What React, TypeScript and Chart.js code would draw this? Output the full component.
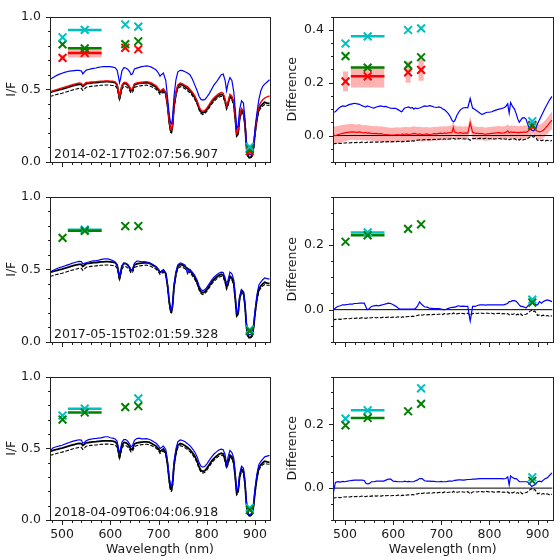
import { useEffect, useRef } from 'react';
import { Chart, registerables } from 'chart.js';

Chart.register(...registerables);

const FONT = "'DejaVu Sans', 'Liberation Sans', sans-serif";
const INK = '#1a1a1a';
Chart.defaults.font.family = FONT;

// ---------------------------------------------------------------------------
// Spectra (I/F) on a common wavelength grid, nm
// ---------------------------------------------------------------------------
const wl = [
  475, 480, 485, 490, 495, 500, 505, 510, 515, 520,
  525, 530, 535, 540, 543, 546, 550, 555, 560, 565,
  570, 575, 580, 585, 590, 595, 600, 605, 610, 614,
  617, 619, 621, 624, 628, 632, 636, 640, 643, 646,
  650, 655, 660, 665, 670, 675, 680, 685, 690, 695,
  700, 703, 706, 710, 715, 719, 722, 725, 727, 729,
  732, 736, 740, 745, 750, 755, 760, 765, 770, 775,
  780, 784, 788, 792, 796, 800, 805, 810, 815, 820,
  825, 830, 834, 838, 841, 844, 848, 852, 856, 859,
  862, 865, 868, 872, 876, 879, 882, 885, 888, 891,
  894, 897, 900, 904, 908, 912, 916, 920, 925, 930,
];

// observed spectrum (solid black)
const obsIF = [
  0.478, 0.483, 0.488, 0.493, 0.497, 0.501, 0.506, 0.511, 0.516, 0.521,
  0.526, 0.530, 0.534, 0.533, 0.519, 0.527, 0.538, 0.540, 0.543, 0.545,
  0.546, 0.548, 0.550, 0.551, 0.552, 0.552, 0.551, 0.549, 0.545, 0.530,
  0.480, 0.442, 0.470, 0.520, 0.540, 0.539, 0.530, 0.510, 0.490, 0.495,
  0.530, 0.537, 0.540, 0.542, 0.544, 0.545, 0.542, 0.535, 0.525, 0.515,
  0.495, 0.478, 0.485, 0.495, 0.470, 0.380, 0.280, 0.215, 0.212, 0.250,
  0.380, 0.470, 0.520, 0.533, 0.528, 0.518, 0.505, 0.490, 0.470, 0.445,
  0.410, 0.370, 0.345, 0.338, 0.345, 0.360, 0.385, 0.410, 0.430, 0.445,
  0.458, 0.465, 0.460, 0.420, 0.375, 0.400, 0.452, 0.440, 0.400, 0.300,
  0.185, 0.200, 0.300, 0.355, 0.340, 0.260, 0.120, 0.045, 0.030, 0.032,
  0.045, 0.100, 0.200, 0.300, 0.365, 0.385, 0.400, 0.410, 0.405, 0.402,
];

// reference spectrum (dashed black)
const refIF = [
  0.450, 0.455, 0.460, 0.465, 0.469, 0.473, 0.478, 0.483, 0.488, 0.493,
  0.498, 0.502, 0.506, 0.506, 0.492, 0.500, 0.514, 0.517, 0.520, 0.522,
  0.523, 0.525, 0.527, 0.528, 0.529, 0.529, 0.528, 0.526, 0.523, 0.508,
  0.460, 0.423, 0.450, 0.500, 0.520, 0.519, 0.510, 0.492, 0.473, 0.478,
  0.512, 0.519, 0.522, 0.525, 0.527, 0.528, 0.525, 0.519, 0.510, 0.500,
  0.481, 0.464, 0.471, 0.481, 0.456, 0.367, 0.268, 0.203, 0.200, 0.238,
  0.366, 0.455, 0.505, 0.518, 0.513, 0.503, 0.490, 0.476, 0.456, 0.431,
  0.397, 0.358, 0.333, 0.326, 0.333, 0.348, 0.372, 0.397, 0.417, 0.432,
  0.445, 0.452, 0.447, 0.407, 0.362, 0.387, 0.439, 0.427, 0.388, 0.289,
  0.175, 0.189, 0.288, 0.342, 0.328, 0.250, 0.113, 0.040, 0.028, 0.030,
  0.040, 0.092, 0.188, 0.287, 0.351, 0.370, 0.385, 0.395, 0.390, 0.388,
];

// 2014 epoch: blue and red spectra
const blueIF1 = [
  0.568, 0.578, 0.588, 0.597, 0.604, 0.610, 0.616, 0.620, 0.624, 0.626,
  0.628, 0.630, 0.630, 0.626, 0.606, 0.618, 0.632, 0.636, 0.640, 0.643,
  0.646, 0.650, 0.653, 0.655, 0.656, 0.656, 0.655, 0.652, 0.648, 0.632,
  0.585, 0.545, 0.570, 0.625, 0.648, 0.646, 0.638, 0.622, 0.600, 0.606,
  0.640, 0.645, 0.650, 0.655, 0.658, 0.660, 0.658, 0.652, 0.642, 0.632,
  0.610, 0.590, 0.600, 0.612, 0.560, 0.430, 0.330, 0.268, 0.262, 0.300,
  0.450, 0.565, 0.620, 0.630, 0.628, 0.620, 0.612, 0.600, 0.570, 0.530,
  0.490, 0.450, 0.430, 0.425, 0.430, 0.445, 0.470, 0.500, 0.530, 0.550,
  0.575, 0.600, 0.605, 0.560, 0.490, 0.540, 0.580, 0.560, 0.480, 0.360,
  0.230, 0.250, 0.360, 0.420, 0.405, 0.300, 0.140, 0.070, 0.050, 0.050,
  0.055, 0.100, 0.230, 0.340, 0.430, 0.490, 0.520, 0.535, 0.550, 0.565,
];

const redIF1 = [
  0.483, 0.488, 0.494, 0.499, 0.504, 0.509, 0.514, 0.520, 0.524, 0.530,
  0.535, 0.539, 0.543, 0.541, 0.526, 0.535, 0.546, 0.547, 0.550, 0.551,
  0.552, 0.554, 0.556, 0.556, 0.557, 0.557, 0.556, 0.555, 0.551, 0.536,
  0.486, 0.449, 0.477, 0.527, 0.547, 0.546, 0.537, 0.517, 0.497, 0.502,
  0.537, 0.543, 0.546, 0.549, 0.551, 0.552, 0.549, 0.543, 0.533, 0.523,
  0.504, 0.487, 0.494, 0.504, 0.479, 0.390, 0.290, 0.224, 0.220, 0.260,
  0.390, 0.480, 0.530, 0.542, 0.537, 0.527, 0.518, 0.500, 0.480, 0.455,
  0.420, 0.380, 0.355, 0.348, 0.355, 0.370, 0.395, 0.421, 0.441, 0.456,
  0.470, 0.477, 0.472, 0.432, 0.387, 0.412, 0.465, 0.453, 0.413, 0.313,
  0.198, 0.213, 0.313, 0.368, 0.354, 0.278, 0.140, 0.065, 0.052, 0.054,
  0.065, 0.118, 0.215, 0.318, 0.385, 0.410, 0.428, 0.440, 0.448, 0.455,
];

// 2017 epoch: blue spectrum
const blueIF2 = [
  0.480, 0.490, 0.498, 0.505, 0.512, 0.516, 0.522, 0.528, 0.533, 0.540,
  0.545, 0.550, 0.554, 0.553, 0.537, 0.540, 0.545, 0.550, 0.555, 0.558,
  0.558, 0.562, 0.566, 0.569, 0.572, 0.571, 0.566, 0.560, 0.550, 0.532,
  0.482, 0.444, 0.472, 0.522, 0.542, 0.541, 0.532, 0.512, 0.492, 0.498,
  0.540, 0.556, 0.555, 0.551, 0.552, 0.550, 0.546, 0.538, 0.528, 0.518,
  0.497, 0.478, 0.485, 0.496, 0.474, 0.386, 0.287, 0.222, 0.220, 0.258,
  0.390, 0.482, 0.530, 0.544, 0.538, 0.528, 0.470, 0.500, 0.480, 0.458,
  0.425, 0.385, 0.360, 0.352, 0.360, 0.375, 0.400, 0.425, 0.445, 0.460,
  0.473, 0.480, 0.477, 0.440, 0.400, 0.425, 0.480, 0.468, 0.425, 0.320,
  0.200, 0.210, 0.310, 0.360, 0.345, 0.270, 0.135, 0.060, 0.050, 0.052,
  0.062, 0.115, 0.215, 0.325, 0.392, 0.412, 0.428, 0.440, 0.436, 0.432,
];

// 2018 epoch: blue spectrum
const blueIF3 = [
  0.470, 0.500, 0.507, 0.512, 0.517, 0.521, 0.528, 0.534, 0.540, 0.546,
  0.551, 0.555, 0.559, 0.557, 0.535, 0.540, 0.552, 0.560, 0.563, 0.567,
  0.568, 0.570, 0.572, 0.576, 0.580, 0.580, 0.573, 0.570, 0.565, 0.550,
  0.500, 0.462, 0.490, 0.542, 0.560, 0.560, 0.550, 0.530, 0.510, 0.518,
  0.555, 0.567, 0.570, 0.565, 0.566, 0.567, 0.563, 0.556, 0.545, 0.535,
  0.516, 0.498, 0.505, 0.515, 0.492, 0.402, 0.302, 0.238, 0.236, 0.274,
  0.405, 0.496, 0.546, 0.558, 0.554, 0.545, 0.532, 0.518, 0.498, 0.474,
  0.440, 0.400, 0.375, 0.368, 0.375, 0.390, 0.415, 0.440, 0.460, 0.475,
  0.488, 0.494, 0.490, 0.455, 0.385, 0.438, 0.485, 0.470, 0.430, 0.325,
  0.205, 0.220, 0.320, 0.375, 0.360, 0.280, 0.135, 0.055, 0.035, 0.040,
  0.055, 0.115, 0.220, 0.322, 0.387, 0.408, 0.425, 0.440, 0.445, 0.450,
];

// ---------------------------------------------------------------------------
// Differences from the observed spectrum, same grid
// ---------------------------------------------------------------------------
const dashedDiff = [
  -0.032, -0.030, -0.029, -0.030, -0.028, -0.028, -0.027, -0.028, -0.026, -0.027,
  -0.026, -0.027, -0.025, -0.026, -0.027, -0.025, -0.026, -0.025, -0.024, -0.025,
  -0.024, -0.025, -0.023, -0.024, -0.023, -0.024, -0.023, -0.024, -0.022, -0.023,
  -0.024, -0.022, -0.023, -0.021, -0.022, -0.021, -0.022, -0.020, -0.021, -0.019,
  -0.018, -0.016, -0.017, -0.015, -0.016, -0.015, -0.016, -0.014, -0.015, -0.014,
  -0.013, -0.015, -0.012, -0.014, -0.013, -0.012, -0.014, -0.010, -0.012, -0.014,
  -0.013, -0.012, -0.011, -0.012, -0.013, -0.011, -0.018, -0.012, -0.011, -0.012,
  -0.010, -0.011, -0.012, -0.010, -0.011, -0.012, -0.011, -0.013, -0.012, -0.011,
  -0.013, -0.012, -0.014, -0.012, -0.016, -0.013, -0.015, -0.012, -0.016, -0.014,
  -0.017, -0.013, -0.018, -0.015, -0.014, -0.012, -0.008, -0.004, -0.002, -0.006,
  -0.004, -0.010, -0.018, -0.016, -0.019, -0.017, -0.020, -0.018, -0.021, -0.019,
];

const blueDiff1 = [
  0.088, 0.090, 0.100, 0.108, 0.112, 0.110, 0.114, 0.118, 0.120, 0.122,
  0.120, 0.118, 0.113, 0.110, 0.108, 0.112, 0.110, 0.106, 0.104, 0.108,
  0.110, 0.112, 0.109, 0.110, 0.106, 0.104, 0.103, 0.103, 0.098, 0.094,
  0.090, 0.092, 0.098, 0.104, 0.106, 0.108, 0.104, 0.106, 0.100, 0.104,
  0.102, 0.104, 0.108, 0.112, 0.110, 0.113, 0.111, 0.108, 0.106, 0.108,
  0.105, 0.100, 0.098, 0.092, 0.082, 0.070, 0.058, 0.052, 0.054, 0.060,
  0.075, 0.088, 0.098, 0.104, 0.106, 0.105, 0.140, 0.104, 0.098, 0.092,
  0.085, 0.080, 0.082, 0.086, 0.088, 0.088, 0.090, 0.094, 0.097, 0.100,
  0.102, 0.105, 0.110, 0.120, 0.085, 0.125, 0.110, 0.100, 0.080, 0.062,
  0.050, 0.058, 0.066, 0.068, 0.062, 0.045, 0.032, 0.025, 0.020, 0.018,
  0.022, 0.030, 0.045, 0.060, 0.075, 0.090, 0.105, 0.118, 0.135, 0.148,
];

const redDiff1 = [
  0.002, 0.000, 0.003, 0.006, 0.008, 0.010, 0.012, 0.013, 0.014, 0.013,
  0.012, 0.014, 0.011, 0.010, 0.012, 0.009, 0.010, 0.008, 0.007, 0.008,
  0.006, 0.007, 0.005, 0.004, 0.003, 0.002, 0.002, 0.003, 0.004, 0.002,
  0.003, 0.006, 0.004, 0.005, 0.006, 0.004, 0.005, 0.006, 0.008, 0.007,
  0.005, 0.006, 0.004, 0.005, 0.006, 0.004, 0.005, 0.007, 0.006, 0.008,
  0.009, 0.007, 0.010, 0.008, 0.010, 0.011, 0.012, 0.030, 0.015, 0.012,
  0.010, 0.009, 0.011, 0.008, 0.010, 0.009, 0.048, 0.012, 0.009, 0.008,
  0.007, 0.008, 0.006, 0.005, 0.006, 0.007, 0.008, 0.009, 0.010, 0.011,
  0.009, 0.010, 0.012, 0.018, 0.010, 0.014, 0.012, 0.013, 0.011, 0.012,
  0.010, 0.013, 0.011, 0.014, 0.012, 0.015, 0.020, 0.025, 0.028, 0.030,
  0.026, 0.020, 0.016, 0.014, 0.016, 0.020, 0.028, 0.036, 0.048, 0.058,
];

// 1-sigma spread of the red difference
const redSigma1 = [
  0.034, 0.034, 0.033, 0.033, 0.032, 0.032, 0.031, 0.031, 0.030, 0.030,
  0.030, 0.030, 0.029, 0.029, 0.029, 0.029, 0.028, 0.028, 0.028, 0.028,
  0.028, 0.028, 0.028, 0.028, 0.027, 0.027, 0.027, 0.027, 0.027, 0.027,
  0.027, 0.027, 0.027, 0.027, 0.027, 0.027, 0.027, 0.027, 0.027, 0.027,
  0.027, 0.027, 0.027, 0.026, 0.026, 0.026, 0.026, 0.026, 0.026, 0.026,
  0.026, 0.026, 0.026, 0.026, 0.026, 0.026, 0.026, 0.026, 0.026, 0.026,
  0.025, 0.025, 0.025, 0.025, 0.025, 0.025, 0.025, 0.025, 0.025, 0.025,
  0.025, 0.025, 0.025, 0.025, 0.025, 0.025, 0.025, 0.025, 0.025, 0.025,
  0.025, 0.025, 0.025, 0.025, 0.025, 0.025, 0.025, 0.025, 0.025, 0.025,
  0.025, 0.025, 0.025, 0.025, 0.025, 0.025, 0.025, 0.025, 0.025, 0.025,
  0.026, 0.027, 0.028, 0.028, 0.029, 0.030, 0.030, 0.031, 0.032, 0.033,
];

const blueDiff2 = [
  -0.002, 0.005, 0.010, 0.012, 0.015, 0.015, 0.016, 0.017, 0.017, 0.019,
  0.019, 0.020, 0.020, 0.020, 0.010, 0.000, 0.003, 0.010, 0.012, 0.013,
  0.012, 0.014, 0.016, 0.018, 0.020, 0.019, 0.015, 0.011, 0.005, 0.002,
  0.002, 0.002, 0.002, 0.002, 0.002, 0.002, 0.002, 0.002, 0.002, 0.003,
  0.010, 0.024, 0.015, 0.009, 0.008, 0.005, 0.004, 0.003, 0.003, 0.003,
  0.002, 0.000, 0.000, 0.001, 0.004, 0.006, 0.007, 0.007, 0.008, 0.008,
  0.010, 0.012, 0.010, 0.011, 0.010, 0.010, -0.035, 0.010, 0.010, 0.013,
  0.015, 0.015, 0.015, 0.014, 0.015, 0.015, 0.015, 0.015, 0.015, 0.015,
  0.015, 0.015, 0.017, 0.020, 0.025, 0.025, 0.028, 0.028, 0.025, 0.020,
  0.015, 0.010, 0.010, 0.008, 0.005, 0.010, 0.015, 0.015, 0.020, 0.020,
  0.017, 0.015, 0.015, 0.025, 0.020, 0.025, 0.028, 0.030, 0.028, 0.025,
];

const blueDiff3 = [
  -0.020, 0.018, 0.020, 0.019, 0.021, 0.020, 0.022, 0.023, 0.024, 0.025,
  0.025, 0.025, 0.025, 0.024, 0.016, 0.013, 0.014, 0.020, 0.020, 0.022,
  0.022, 0.022, 0.022, 0.025, 0.028, 0.028, 0.022, 0.021, 0.020, 0.020,
  0.020, 0.020, 0.020, 0.022, 0.020, 0.021, 0.020, 0.020, 0.020, 0.023,
  0.025, 0.030, 0.030, 0.023, 0.022, 0.022, 0.021, 0.021, 0.020, 0.020,
  0.021, 0.020, 0.020, 0.020, 0.022, 0.022, 0.022, 0.023, 0.024, 0.024,
  0.025, 0.026, 0.026, 0.025, 0.026, 0.027, 0.027, 0.028, 0.028, 0.029,
  0.030, 0.030, 0.030, 0.030, 0.030, 0.030, 0.030, 0.030, 0.030, 0.030,
  0.030, 0.029, 0.030, 0.035, 0.010, 0.038, 0.033, 0.030, 0.030, 0.025,
  0.020, 0.020, 0.020, 0.020, 0.020, 0.020, 0.015, 0.010, 0.005, 0.008,
  0.010, 0.015, 0.020, 0.022, 0.020, 0.025, 0.030, 0.032, 0.040, 0.048,
];

// ---------------------------------------------------------------------------
// Filter photometry (x markers); the 547 nm filter is drawn with its width
// ---------------------------------------------------------------------------
const filterWl = [501, 547, 631, 658, 889];
const wideFilter = [512, 582];

const cyanIF1 = [0.857, 0.908, 0.945, 0.930, 0.105];
const greenIF1 = [0.808, 0.781, 0.810, 0.830, 0.090];
const redPtIF1 = [0.716, 0.749, 0.785, 0.775, 0.075];
const redLoIF1 = [0.700, 0.718, 0.770, 0.760, null];
const redHiIF1 = [0.735, 0.775, 0.800, 0.790, null];

const cyanDiff1 = [0.348, 0.375, 0.399, 0.405, 0.054];
const greenDiff1 = [0.300, 0.257, 0.266, 0.296, 0.040];
const redPtDiff1 = [0.205, 0.224, 0.239, 0.248, 0.036];
const redLoDiff1 = [0.167, 0.182, 0.200, 0.207, null];
const redHiDiff1 = [0.242, 0.260, 0.280, 0.288, null];

const cyanIF2 = [null, 0.772, null, null, 0.085];
const greenIF2 = [0.716, 0.764, 0.797, 0.797, 0.075];
const cyanDiff2 = [null, 0.239, null, null, 0.031];
const greenDiff2 = [0.210, 0.230, 0.250, 0.264, 0.022];

const cyanIF3 = [0.728, 0.776, null, 0.847, 0.085];
const greenIF3 = [0.700, 0.749, 0.787, 0.793, 0.070];
const cyanDiff3 = [0.218, 0.244, null, 0.313, 0.034];
const greenDiff3 = [0.197, 0.220, 0.241, 0.264, 0.023];

const stamps = ['2014-02-17T02:07:56.907', '2017-05-15T02:01:59.328', '2018-04-09T06:04:06.918'];

// Axis ticks
const X_MIN = 475;
const X_MAX = 931;
const xMajor = [500, 600, 700, 800, 900];
const xMinor = [480, 520, 540, 560, 580, 620, 640, 660, 680, 720, 740, 760, 780, 820, 840, 860, 880, 920];
const ifMajor = [0, 0.5, 1.0];
const ifMinor = [0.1, 0.2, 0.3, 0.4, 0.6, 0.7, 0.8, 0.9];
const diffMajorTop = [0, 0.2, 0.4];
const diffMajor = [0, 0.2];
const diffMinorTop = [-0.1, -0.05, 0.05, 0.1, 0.15, 0.25, 0.3, 0.35, 0.45];
const diffMinor = [-0.1, -0.05, 0.05, 0.1, 0.15, 0.25, 0.3, 0.35];

// Colours
const CYAN = '#00bfbf';
const GREEN = '#008000';
const RED = '#ff0000';
const BLUE = '#0000ff';
const BLACK = '#000000';
const PINK = 'rgba(255,0,0,0.3)';

// ---------------------------------------------------------------------------
// Dataset helpers
// ---------------------------------------------------------------------------
type Pt = { x: number; y: number };
const pts = (xs: number[], ys: (number | null)[]): Pt[] =>
  xs.map((x, i) => ({ x, y: ys[i] as number })).filter((p) => p.y !== null && p.y !== undefined);

const line = (data: Pt[], color: string, width: number, dash: number[] = []) => ({
  data,
  borderColor: color,
  borderWidth: width,
  borderDash: dash,
  pointRadius: 0,
  showLine: true,
  fill: false,
  tension: 0,
});

const crosses = (ys: (number | null)[], color: string) => ({
  data: pts(filterWl, ys),
  showLine: false,
  pointStyle: 'crossRot',
  pointRadius: 5.5,
  pointBorderWidth: 2,
  borderColor: color,
  backgroundColor: color,
});

const widthBar = (y: number, color: string) =>
  line([{ x: wideFilter[0], y }, { x: wideFilter[1], y }], color, 2.5);

const band = (lo: Pt[], hi: Pt[]) => [
  { data: lo, borderColor: 'transparent', borderWidth: 0, pointRadius: 0, fill: false, showLine: true },
  { data: hi, borderColor: 'transparent', borderWidth: 0, pointRadius: 0, fill: '-1', backgroundColor: PINK, showLine: true },
];

// red uncertainties: a box for the wide filter, short thick bars for the rest
const redErrors = (lo: (number | null)[], hi: (number | null)[]) => {
  const out: any[] = [
    ...band(
      [{ x: wideFilter[0], y: lo[1] as number }, { x: wideFilter[1], y: lo[1] as number }],
      [{ x: wideFilter[0], y: hi[1] as number }, { x: wideFilter[1], y: hi[1] as number }],
    ),
  ];
  filterWl.forEach((w, i) => {
    if (i === 1 || lo[i] === null || hi[i] === null) return;
    out.push(line([{ x: w, y: lo[i] as number }, { x: w, y: hi[i] as number }], PINK, 5));
  });
  return out;
};

const DASH = [3.7, 1.6];
const zeroLine = line([{ x: X_MIN, y: 0 }, { x: X_MAX, y: 0 }], BLACK, 1);

// ---------------------------------------------------------------------------
// Panels
// ---------------------------------------------------------------------------
interface PanelSpec {
  left: number;
  top: number;
  width: number;
  height: number;
  padTop: number;
  padRight: number;
  yWidth: number;
  xHeight: number;
  yMin: number;
  yMax: number;
  yMajor: number[];
  yMinor: number[];
  yTitle: string;
  titlePad: number;
  showX: boolean;
  stamp?: string;
  datasets: any[];
}

const LEFT_COL = { left: 0, width: 280, padRight: 10, yWidth: 50, yTitle: 'I/F', titlePad: 4 };
const RIGHT_COL = { left: 280, width: 280, padRight: 6, yWidth: 53, yTitle: 'Difference', titlePad: 5 };
const ROW1 = { top: 0, height: 180, padTop: 10, xHeight: 18, showX: false };
const ROW2 = { top: 180, height: 180, padTop: 9, xHeight: 18, showX: false };
const ROW3 = { top: 360, height: 200, padTop: 7.3, xHeight: 40, showX: true };

const panels: PanelSpec[] = [
  {
    ...LEFT_COL, ...ROW1,
    yMin: 0, yMax: 1, yMajor: ifMajor, yMinor: ifMinor, stamp: stamps[0],
    datasets: [
      line(pts(wl, refIF), BLACK, 1.1, DASH),
      line(pts(wl, obsIF), BLACK, 1.8),
      line(pts(wl, redIF1), RED, 1.4),
      line(pts(wl, blueIF1), BLUE, 1.2),
      ...redErrors(redLoIF1, redHiIF1),
      widthBar(redPtIF1[1], RED),
      widthBar(greenIF1[1], GREEN),
      widthBar(cyanIF1[1], CYAN),
      crosses(redPtIF1, RED),
      crosses(greenIF1, GREEN),
      crosses(cyanIF1, CYAN),
    ],
  },
  {
    ...RIGHT_COL, ...ROW1,
    yMin: -0.1, yMax: 0.45, yMajor: diffMajorTop, yMinor: diffMinorTop,
    datasets: [
      ...band(
        pts(wl, redDiff1.map((v, i) => v - redSigma1[i])),
        pts(wl, redDiff1.map((v, i) => v + redSigma1[i])),
      ),
      zeroLine,
      line(pts(wl, dashedDiff), BLACK, 1.1, DASH),
      line(pts(wl, redDiff1), RED, 1.2),
      line(pts(wl, blueDiff1), BLUE, 1.2),
      ...redErrors(redLoDiff1, redHiDiff1),
      widthBar(redPtDiff1[1], RED),
      widthBar(greenDiff1[1], GREEN),
      widthBar(cyanDiff1[1], CYAN),
      crosses(redPtDiff1, RED),
      crosses(greenDiff1, GREEN),
      crosses(cyanDiff1, CYAN),
    ],
  },
  {
    ...LEFT_COL, ...ROW2,
    yMin: 0, yMax: 1, yMajor: ifMajor, yMinor: ifMinor, stamp: stamps[1],
    datasets: [
      line(pts(wl, refIF), BLACK, 1.1, DASH),
      line(pts(wl, obsIF), BLACK, 1.8),
      line(pts(wl, blueIF2), BLUE, 1.2),
      widthBar(cyanIF2[1] as number, CYAN),
      widthBar(greenIF2[1], GREEN),
      crosses(cyanIF2, CYAN),
      crosses(greenIF2, GREEN),
    ],
  },
  {
    ...RIGHT_COL, ...ROW2,
    yMin: -0.1, yMax: 0.35, yMajor: diffMajor, yMinor: diffMinor,
    datasets: [
      zeroLine,
      line(pts(wl, dashedDiff), BLACK, 1.1, DASH),
      line(pts(wl, blueDiff2), BLUE, 1.2),
      widthBar(cyanDiff2[1] as number, CYAN),
      widthBar(greenDiff2[1], GREEN),
      crosses(cyanDiff2, CYAN),
      crosses(greenDiff2, GREEN),
    ],
  },
  {
    ...LEFT_COL, ...ROW3,
    yMin: 0, yMax: 1, yMajor: ifMajor, yMinor: ifMinor, stamp: stamps[2],
    datasets: [
      line(pts(wl, refIF), BLACK, 1.1, DASH),
      line(pts(wl, obsIF), BLACK, 1.8),
      line(pts(wl, blueIF3), BLUE, 1.2),
      widthBar(cyanIF3[1] as number, CYAN),
      widthBar(greenIF3[1], GREEN),
      crosses(cyanIF3, CYAN),
      crosses(greenIF3, GREEN),
    ],
  },
  {
    ...RIGHT_COL, ...ROW3,
    yMin: -0.1, yMax: 0.35, yMajor: diffMajor, yMinor: diffMinor,
    datasets: [
      zeroLine,
      line(pts(wl, dashedDiff), BLACK, 1.1, DASH),
      line(pts(wl, blueDiff3), BLUE, 1.2),
      widthBar(cyanDiff3[1] as number, CYAN),
      widthBar(greenDiff3[1], GREEN),
      crosses(cyanDiff3, CYAN),
      crosses(greenDiff3, GREEN),
    ],
  },
];

// Frame, outward major/minor ticks and the timestamp inside the axes
function frameAndTicks(s: PanelSpec) {
  return {
    id: 'frameAndTicks',
    afterDatasetsDraw(chart: any) {
      const { ctx, chartArea: a, scales } = chart;
      const xs = scales.x;
      const ys = scales.y;
      const crisp = (v: number) => Math.round(v) + 0.5;
      ctx.save();
      ctx.strokeStyle = '#222';
      ctx.lineWidth = 1;
      ctx.setLineDash([]);
      const l = crisp(a.left), r = crisp(a.right), t = crisp(a.top), b = crisp(a.bottom);
      ctx.strokeRect(l, t, r - l, b - t);
      ctx.beginPath();
      const xTick = (v: number, len: number) => {
        const px = crisp(xs.getPixelForValue(v));
        ctx.moveTo(px, b);
        ctx.lineTo(px, b + len);
      };
      const yTick = (v: number, len: number) => {
        const py = crisp(ys.getPixelForValue(v));
        ctx.moveTo(l, py);
        ctx.lineTo(l - len, py);
      };
      xMajor.forEach((v) => xTick(v, 4.5));
      xMinor.forEach((v) => xTick(v, 2.5));
      s.yMajor.forEach((v) => yTick(v, 4.5));
      s.yMinor.forEach((v) => yTick(v, 2.5));
      ctx.stroke();
      if (s.stamp) {
        ctx.fillStyle = INK;
        ctx.font = `12.5px ${FONT}`;
        ctx.textAlign = 'left';
        ctx.textBaseline = 'alphabetic';
        ctx.fillText(s.stamp, a.left + 4, a.bottom - 4.5);
      }
      ctx.restore();
    },
  };
}

function buildConfig(s: PanelSpec): any {
  const n = s.datasets.length;
  const datasets = s.datasets.map((d, i) => ({ ...d, order: n - i }));
  const tickFont = { family: FONT, size: 12.5 };
  return {
    type: 'line',
    data: { datasets },
    options: {
      animation: false,
      responsive: false,
      devicePixelRatio: 1,
      events: [],
      layout: { padding: { top: s.padTop, right: s.padRight, left: 0, bottom: 0 } },
      plugins: { legend: { display: false }, tooltip: { enabled: false } },
      scales: {
        x: {
          type: 'linear',
          min: X_MIN,
          max: X_MAX,
          grid: { display: false, drawTicks: false },
          border: { display: false },
          afterBuildTicks: (sc: any) => {
            sc.ticks = xMajor.map((v) => ({ value: v }));
          },
          afterFit: (sc: any) => {
            sc.height = s.xHeight;
          },
          ticks: {
            display: s.showX,
            padding: 7,
            font: tickFont,
            color: INK,
            autoSkip: false,
            maxRotation: 0,
            callback: (v: any) => String(v),
          },
          title: {
            display: s.showX,
            text: 'Wavelength (nm)',
            font: tickFont,
            color: INK,
            padding: { top: 0, bottom: 3 },
          },
        },
        y: {
          type: 'linear',
          min: s.yMin,
          max: s.yMax,
          grid: { display: false, drawTicks: false },
          border: { display: false },
          afterBuildTicks: (sc: any) => {
            sc.ticks = s.yMajor.map((v) => ({ value: v }));
          },
          afterFit: (sc: any) => {
            sc.width = s.yWidth;
          },
          ticks: {
            padding: 9,
            font: tickFont,
            color: INK,
            autoSkip: false,
            callback: (v: any) => Number(v).toFixed(1),
          },
          title: {
            display: true,
            text: s.yTitle,
            font: tickFont,
            color: INK,
            padding: { top: s.titlePad, bottom: 0 },
          },
        },
      },
    },
    plugins: [frameAndTicks(s)],
  };
}

function Panel({ spec }: { spec: PanelSpec }) {
  const ref = useRef<HTMLCanvasElement>(null);
  useEffect(() => {
    if (!ref.current) return;
    const chart = new Chart(ref.current, buildConfig(spec));
    return () => chart.destroy();
  }, [spec]);
  return (
    <canvas
      ref={ref}
      width={spec.width}
      height={spec.height}
      style={{ position: 'absolute', left: spec.left, top: spec.top, width: spec.width, height: spec.height }}
    />
  );
}

export default function App() {
  return (
    <div style={{ position: 'fixed', left: 0, top: 0, width: 560, height: 560, background: '#ffffff', overflow: 'hidden' }}>
      {panels.map((p, i) => (
        <Panel key={i} spec={p} />
      ))}
    </div>
  );
}
